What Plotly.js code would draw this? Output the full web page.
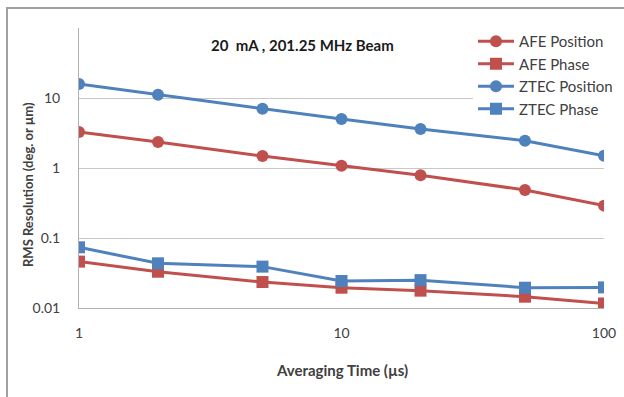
<!DOCTYPE html>
<html>
<head>
<meta charset="utf-8">
<script src="https://cdn.plot.ly/plotly-3.0.1.min.js"></script>
<style>html,body{margin:0;padding:0;background:#fff;}#chart{width:624px;height:397px;}</style>
</head>
<body>
<div id="chart"></div>
<script>
const times = [1, 2, 5, 10, 20, 50, 100];
const afePosition = [3.27, 2.35, 1.48, 1.08, 0.79, 0.485, 0.29];
const afePhase = [0.046, 0.033, 0.0235, 0.0195, 0.0177, 0.0145, 0.0116];
const ztecPosition = [15.8, 11.1, 7.0, 5.0, 3.6, 2.45, 1.5];
const ztecPhase = [0.0736, 0.0435, 0.039, 0.0243, 0.025, 0.0195, 0.0197];
const seriesNames = ["AFE Position", "AFE Phase", "ZTEC Position", "ZTEC Phase"];
const xTicks = [1, 10, 100];
const yTicks = [0.01, 0.1, 1, 10];
const yTickText = ["0.01", "0.1", "1", "10"];

const red = "#c0504d", blue = "#4f81bd";
const font = "Lato, 'Open Sans', sans-serif";
const W = 624, H = 397;
const PL = 79, PR = 604, PT = 28, PB = 308;
const px = v => (v - PL) / (W - PL);
const py = v => (PB - v) / (PB - PT);

function tr(name, y, color, symbol, size) {
  return {x: times, y: y, name: name, type: "scatter", mode: "lines+markers",
    line: {color: color, width: 3}, marker: {color: color, symbol: symbol, size: size}};
}
const data = [
  tr(seriesNames[0], afePosition, red, "circle", 12),
  tr(seriesNames[1], afePhase, red, "square", 12),
  tr(seriesNames[2], ztecPosition, blue, "circle", 12),
  tr(seriesNames[3], ztecPhase, blue, "square", 12)
];

const layout = {
  width: W, height: H,
  margin: {l: PL, r: 0, t: PT, b: H - PB},
  paper_bgcolor: "#fff", plot_bgcolor: "#fff",
  font: {family: font, color: "#404040", size: 14},
  showlegend: true,
  legend: {x: px(473), y: py(25), xanchor: "left", yanchor: "top", bgcolor: "#fff",
    font: {family: font, size: 15, color: "#404040"}, tracegroupgap: 0, itemwidth: 36},
  xaxis: {type: "log", range: [0, 2], domain: [0, px(PR)], tickvals: xTicks, ticktext: xTicks.map(String),
    showgrid: false, zeroline: false, showline: true, linecolor: "#b0b0b0", linewidth: 1,
    ticks: "", ticklabelstandoff: 12, tickfont: {size: 14, color: "#404040"}, automargin: false},
  yaxis: {type: "log", range: [-2, 2], tickvals: yTicks, ticktext: yTickText,
    showgrid: true, gridcolor: "#c8c8c8", gridwidth: 1, zeroline: false,
    showline: true, linecolor: "#b0b0b0", linewidth: 1,
    ticks: "", ticklabelstandoff: 15, tickfont: {size: 14, color: "#404040"}, automargin: false},
  annotations: [
    {text: "<b>20  mA , 201.25 MHz Beam</b>", xref: "paper", yref: "paper",
      x: px(302), y: py(45), xanchor: "center", yanchor: "middle",
      showarrow: false, font: {family: font, size: 15, color: "#1a1a1a"}},
    {text: "<b>Averaging Time (µs)</b>", xref: "paper", yref: "paper",
      x: px(342), y: py(370), xanchor: "center", yanchor: "middle",
      showarrow: false, font: {family: font, size: 15, color: "#404040"}},
    {text: "<b>RMS Resolution (deg. or µm)</b>", xref: "paper", yref: "paper",
      x: px(28), y: py(185), xanchor: "center", yanchor: "middle", textangle: -90,
      showarrow: false, font: {family: font, size: 13, color: "#404040"}}
  ],
  shapes: [{type: "rect", xref: "paper", yref: "paper",
    x0: px(7), x1: px(640), y0: py(420), y1: py(8),
    line: {color: "#a0a0a0", width: 2}, fillcolor: "rgba(0,0,0,0)", layer: "below"}]
};
Plotly.newPlot("chart", data, layout, {displayModeBar: false, staticPlot: true});
</script>
</body>
</html>
